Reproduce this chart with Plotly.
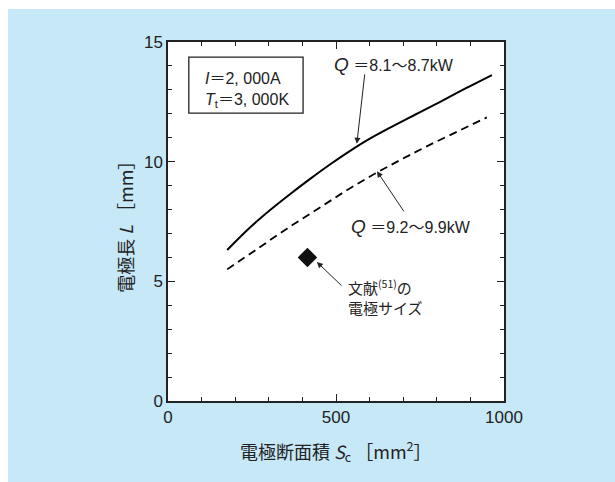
import plotly.graph_objects as go

# Data
sc_q1 = [176, 244, 304, 363, 423, 482, 542, 602, 661, 735, 810, 887, 964]
l_q1 = [6.31, 7.25, 7.98, 8.64, 9.28, 9.88, 10.45, 10.97, 11.42, 11.96, 12.5, 13.07, 13.62]

sc_q2 = [176, 265, 354, 443, 527, 610, 690, 770, 860, 949]
l_q2 = [5.5, 6.35, 7.2, 8.0, 8.76, 9.45, 10.06, 10.64, 11.25, 11.85]

ref_sc = [415]
ref_l = [6.0]

x_ticks = [0, 500, 1000]
y_ticks = [0, 5, 10, 15]

JP = "Noto Sans CJK JP"
NUM = "Liberation Sans, Arial"
CJK_SPAN = "<span style='font-family:\"Noto Sans CJK JP\"'>{}</span>"

fig = go.Figure()
fig.add_trace(go.Scatter(x=sc_q1, y=l_q1, mode="lines", line=dict(color="black", width=2, shape="spline", smoothing=1.0), showlegend=False))
fig.add_trace(go.Scatter(x=sc_q2, y=l_q2, mode="lines", line=dict(color="black", width=1.8, dash="8px,5px", shape="spline", smoothing=1.0), showlegend=False))
fig.add_trace(go.Scatter(x=ref_sc, y=ref_l, mode="markers", marker=dict(symbol="diamond", size=15, color="#111111"), showlegend=False))

axis_common = dict(showline=True, linecolor="#222", linewidth=1.5, mirror="ticks", ticks="inside",
                   tickcolor="#222", ticklen=7, tickwidth=1.2, showgrid=False, zeroline=False,
                   tickfont=dict(family=NUM, size=17, color="#222"))
fig.update_xaxes(range=[0, 1000], tickvals=x_ticks, minor=dict(dtick=100, ticklen=4, ticks="inside", tickcolor="#222", tickwidth=1.2), **axis_common)
fig.update_yaxes(range=[0, 15], tickvals=y_ticks, minor=dict(dtick=1, ticklen=4, ticks="inside", tickcolor="#222", tickwidth=1.2), **axis_common)

shapes = [
    dict(type="rect", xref="paper", yref="paper", x0=-0.476, x1=1.35, y0=-0.23, y1=1.092,
         fillcolor="#c7e8f7", line=dict(width=0), layer="below"),
    dict(type="rect", xref="paper", yref="paper", x0=0, x1=1, y0=0, y1=1,
         fillcolor="white", line=dict(width=0), layer="below"),
    dict(type="rect", xref="x", yref="y", x0=62, x1=402, y0=12.03, y1=14.37,
         fillcolor="rgba(0,0,0,0)", line=dict(color="#222", width=1.3)),
]

eq = CJK_SPAN.format("＝")
wave = CJK_SPAN.format("～")

annots = [
    dict(x=0.5, y=-0.139, xref="paper", yref="paper", xanchor="center", yanchor="middle", showarrow=False,
         text="電極断面積 <i>S</i><sub>c</sub> ［mm<sup>2</sup>］", font=dict(family=JP, size=18, color="#222")),
    dict(x=-0.128, y=0.499, xref="paper", yref="paper", xanchor="center", yanchor="middle", showarrow=False, textangle=-90,
         text="電極長 <i>L</i> ［mm］", font=dict(family=JP, size=18, color="#222")),
    dict(x=104, y=13.54, xref="x", yref="y", xanchor="left", yanchor="middle", showarrow=False,
         text="<i>I</i>" + eq + "2, 000A", font=dict(family=NUM, size=16, color="#222")),
    dict(x=104, y=12.66, xref="x", yref="y", xanchor="left", yanchor="middle", showarrow=False,
         text="<i>T</i><sub>t</sub>" + eq + "3, 000K", font=dict(family=NUM, size=16, color="#222")),
    dict(x=673, y=14.08, xref="x", yref="y", xanchor="center", yanchor="middle", showarrow=False,
         text="<i><span style='font-size:19px'>Q</span></i> " + eq + "8.1" + wave + "8.7kW", font=dict(family=NUM, size=16, color="#222")),
    dict(x=723, y=7.31, xref="x", yref="y", xanchor="center", yanchor="middle", showarrow=False,
         text="<i><span style='font-size:19px'>Q</span></i> " + eq + "9.2" + wave + "9.9kW", font=dict(family=NUM, size=16, color="#222")),
    dict(x=530, y=4.35, xref="x", yref="y", xanchor="left", yanchor="middle", showarrow=False, align="left",
         text="文献<sup>(51)</sup>の<br>電極サイズ", font=dict(family=JP, size=15, color="#222")),
    # arrows
    dict(x=562, y=10.75, ax=586, ay=13.71, xref="x", yref="y", axref="x", ayref="y", text="",
         showarrow=True, arrowhead=2, arrowsize=1.2, arrowwidth=1, arrowcolor="#222"),
    dict(x=622, y=9.6, ax=705, ay=7.86, xref="x", yref="y", axref="x", ayref="y", text="",
         showarrow=True, arrowhead=2, arrowsize=1.2, arrowwidth=1, arrowcolor="#222"),
    dict(x=443, y=5.81, ax=521, ay=4.76, xref="x", yref="y", axref="x", ayref="y", text="",
         showarrow=True, arrowhead=2, arrowsize=1.2, arrowwidth=1, arrowcolor="#222"),
]

fig.update_layout(width=615, height=482, margin=dict(l=168, r=111, t=42, b=81),
                  paper_bgcolor="white", plot_bgcolor="white",
                  shapes=shapes, annotations=annots, showlegend=False)

fig.write_html("out.html")
